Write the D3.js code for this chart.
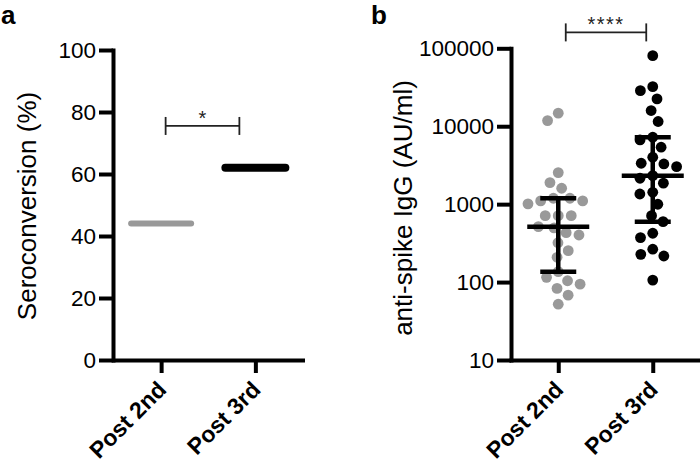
<!DOCTYPE html>
<html>
<head>
<meta charset="utf-8">
<script src="https://cdn.jsdelivr.net/npm/d3@7"></script>
<style>
  html, body { margin: 0; padding: 0; background: #fff; }
  svg { display: block; font-family: "Liberation Sans", Arial, Helvetica, sans-serif; }
</style>
</head>
<body>
<svg id="chart" width="700" height="464"></svg>
<script>
// ---------- data ----------
const categories = ["Post 2nd", "Post 3rd"];
const seroconversion = [44, 62];            // % per category (panel a)
const post2nd = [14700, 11800, 2540, 1890, 1600, 1190, 1100, 1010, 1100, 1190,
                 712, 712, 712, 514, 495, 431, 402, 320, 253, 208,
                 136, 115, 94, 104, 83, 68, 52];
const post3rd = [80500, 28600, 32200, 22400, 15900, 11500, 6670, 7220, 5380, 3350,
                 3030, 3280, 4000, 2150, 1860, 2320, 1420, 1350, 997, 712,
                 596, 372, 423, 227, 216, 264, 106];
const yTicksA = [0, 20, 40, 60, 80, 100];
const yTicksB = [10, 100, 1000, 10000, 100000];
const seriesColors = ["#999999", "#000000"];
const sigLabelA = "*";
const sigLabelB = "****";
const bracketValueA = 75.5;
const bracketValueB = 160000;
const panelLabels = ["a", "b"];
const yTitleA = "Seroconversion (%)";
const yTitleB = "anti-spike IgG (AU/ml)";

// ---------- setup ----------
const svg = d3.select("#chart");
const AXIS_W = 4;

function styleAxis(g) {
  g.select(".domain").attr("stroke", "#000").attr("stroke-width", AXIS_W).attr("stroke-linecap", "square");
  g.selectAll(".tick line").attr("stroke", "#000").attr("stroke-width", AXIS_W);
}

function drawXAxis(xScale, yPos) {
  const g = svg.append("g").attr("transform", `translate(0,${yPos})`)
    .call(d3.axisBottom(xScale).tickSize(13).tickSizeOuter(0).tickFormat(""));
  styleAxis(g);
  g.selectAll(".tick").append("text")
    .attr("text-anchor", "end")
    .attr("fill", "#000")
    .attr("font-weight", "bold")
    .attr("font-size", 23)
    .attr("transform", "translate(6,31) rotate(-45)")
    .text(d => d);
}

// ---------- panel a ----------
const xA = d3.scalePoint().domain(categories).range([114, 302.5]).padding(0.5);
const yA = d3.scaleLinear().domain([0, 100]).range([360, 50]);

const gyA = svg.append("g").attr("transform", `translate(${xA.range()[0] - 1},0)`)
  .call(d3.axisLeft(yA).tickValues(yTicksA).tickSize(14).tickPadding(3).tickSizeOuter(0));
styleAxis(gyA);
gyA.selectAll(".tick text").attr("font-size", 22.5).attr("fill", "#000");

drawXAxis(xA, yA(0));

svg.append("g").selectAll("line")
  .data(categories)
  .join("line")
  .attr("x1", d => xA(d) - 30)
  .attr("x2", d => xA(d) + 30)
  .attr("y1", (d, i) => yA(seroconversion[i]))
  .attr("y2", (d, i) => yA(seroconversion[i]))
  .attr("stroke", (d, i) => seriesColors[i])
  .attr("stroke-width", (d, i) => i === 0 ? 6 : 8)
  .attr("stroke-linecap", "round");

function bracket(x1, x2, y, label, fontSize, spacing) {
  const g = svg.append("g").attr("stroke", "#222").attr("stroke-width", 1.8).attr("fill", "none");
  g.append("line").attr("x1", x1).attr("x2", x2).attr("y1", y).attr("y2", y);
  g.append("line").attr("x1", x1).attr("x2", x1).attr("y1", y - 9).attr("y2", y + 9);
  g.append("line").attr("x1", x2).attr("x2", x2).attr("y1", y - 9).attr("y2", y + 9);
  svg.append("text")
    .attr("x", (x1 + x2) / 2).attr("y", y - 1)
    .attr("text-anchor", "middle")
    .attr("font-size", fontSize)
    .attr("letter-spacing", spacing)
    .attr("fill", "#222")
    .text(label);
}
bracket(xA(categories[0]) + 4.5, xA(categories[1]) - 16, yA(bracketValueA), sigLabelA, 20, 0);

svg.append("text")
  .attr("transform", `translate(36,${(yA(0) + yA(100)) / 2 + 1}) rotate(-90)`)
  .attr("text-anchor", "middle")
  .attr("font-size", 26)
  .attr("fill", "#000")
  .text(yTitleA);

// ---------- panel b ----------
const xB = d3.scalePoint().domain(categories).range([511, 700]).padding(0.5);
const yB = d3.scaleLog().domain([10, 100000]).range([360, 48.3]);

const gyB = svg.append("g").attr("transform", `translate(${xB.range()[0]},0)`)
  .call(d3.axisLeft(yB).tickValues(yTicksB).tickFormat(d3.format("d")).tickSize(14).tickPadding(3).tickSizeOuter(0));
styleAxis(gyB);
gyB.selectAll(".tick text").attr("font-size", 22.5).attr("fill", "#000");

drawXAxis(xB, yB(10));

svg.append("text")
  .attr("transform", `translate(412,208) rotate(-90)`)
  .attr("text-anchor", "middle")
  .attr("font-size", 26)
  .attr("fill", "#000")
  .text(yTitleB);

// beeswarm layout (collision-based) in pixel space
function beeswarm(values, yScale, diam) {
  const pts = values.map((v, i) => ({ v, i, y: yScale(v) })).sort((a, b) => a.y - b.y);
  const placed = [];
  for (const p of pts) {
    const cands = [0];
    for (const q of placed) {
      const dy = Math.abs(q.y - p.y);
      if (dy < diam) {
        const dx = Math.sqrt(diam * diam - dy * dy);
        cands.push(q.x + dx, q.x - dx);
      }
    }
    cands.sort((a, b) => Math.abs(a) - Math.abs(b) || a - b);
    for (const c of cands) {
      if (placed.every(q => (q.x - c) ** 2 + (q.y - p.y) ** 2 >= diam * diam - 1e-6)) { p.x = c; break; }
    }
    placed.push(p);
  }
  return placed;
}

// GraphPad-style quartile: position (n+1)p
function gpQuantile(values, p) {
  const s = values.slice().sort((a, b) => a - b);
  const pos = (s.length + 1) * p - 1;
  const lo = Math.max(0, Math.floor(pos)), hi = Math.min(s.length - 1, Math.ceil(pos));
  return s[lo] + (s[hi] - s[lo]) * (pos - lo);
}

const seriesB = [post2nd, post3rd];
seriesB.forEach((vals, k) => {
  const cx = xB(categories[k]);
  const pts = beeswarm(vals, yB, 13);
  svg.append("g").selectAll("circle")
    .data(pts)
    .join("circle")
    .attr("cx", d => cx + d.x)
    .attr("cy", d => d.y)
    .attr("r", 5.4)
    .attr("fill", seriesColors[k]);
});
seriesB.forEach((vals, k) => {
  const cx = xB(categories[k]);
  const med = gpQuantile(vals, 0.5), q1 = gpQuantile(vals, 0.25), q3 = gpQuantile(vals, 0.75);
  const g = svg.append("g").attr("stroke", "#000").attr("stroke-width", 4.5);
  g.append("line").attr("x1", cx).attr("x2", cx).attr("y1", yB(q1)).attr("y2", yB(q3));
  g.append("line").attr("x1", cx - 31).attr("x2", cx + 31).attr("y1", yB(med)).attr("y2", yB(med));
  g.append("line").attr("x1", cx - 18).attr("x2", cx + 18).attr("y1", yB(q1)).attr("y2", yB(q1));
  g.append("line").attr("x1", cx - 18).attr("x2", cx + 18).attr("y1", yB(q3)).attr("y2", yB(q3));
});

bracket(xB(categories[0]) + 7.5, xB(categories[1]) - 6.5, yB(bracketValueB), sigLabelB, 20, 1.5);

// panel labels
svg.append("text").attr("x", 1).attr("y", 24).attr("font-size", 26).attr("font-weight", "bold").text(panelLabels[0]);
svg.append("text").attr("x", 371).attr("y", 24).attr("font-size", 26).attr("font-weight", "bold").text(panelLabels[1]);
</script>
</body>
</html>
